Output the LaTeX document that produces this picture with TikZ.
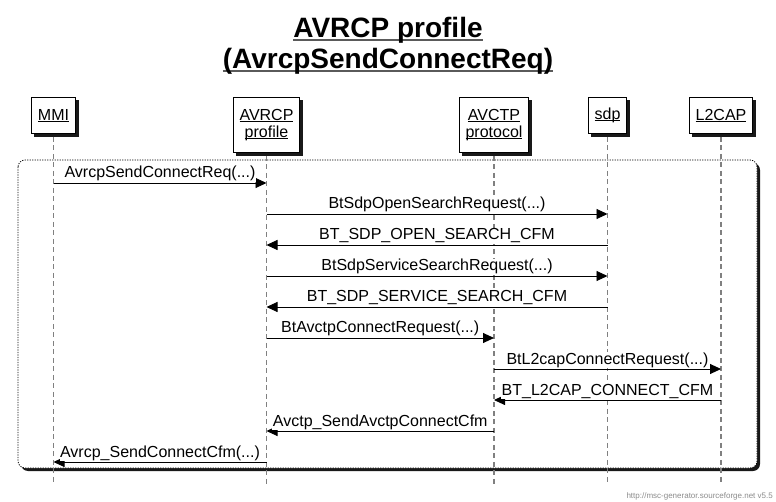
\documentclass[tikz,border=0pt]{standalone}
\usepackage{fontspec}
\setmainfont{Liberation Sans}
\usetikzlibrary{arrows.meta, positioning, shadows}
\definecolor{LifeGray}{RGB}{128,128,128}
\definecolor{ShadowColor}{RGB}{25,25,25}
\definecolor{TitleLine}{RGB}{90,90,90}
\definecolor{FooterGray}{RGB}{140,140,140}
\newcommand{\entul}[1]{\leavevmode\setbox0\hbox{#1}\rlap{\rule[-1.6pt]{\wd0}{0.9pt}}\box0}
\newcommand{\titleul}[1]{\leavevmode\setbox0\hbox{#1}\rlap{\color{TitleLine}\rule[-3.2pt]{\wd0}{2pt}}\box0}

\begin{document}
\begin{tikzpicture}[x=1pt, y=-1pt,
    titletext/.style={anchor=base, inner sep=0pt, font=\fontsize{28}{31}\selectfont\bfseries},
    entity/.style={draw, fill=white, line width=0.9pt, inner xsep=6pt, align=center,
      anchor=north, font=\fontsize{16}{17}\selectfont,
      copy shadow={shadow xshift=3pt, shadow yshift=-3pt, fill=ShadowColor, draw=ShadowColor}},
    lifeline/.style={LifeGray, line width=1.5pt, dash pattern=on 5pt off 3.5pt},
    msg/.style={line width=0.9pt, -{Triangle[length=11pt, width=10pt]}},
    msglabel/.style={midway, anchor=base, yshift=5pt, fill=white, inner sep=0.5pt,
      font=\fontsize{16}{17}\selectfont}]
  \useasboundingbox (0,0) rectangle (776,502);
  \fill[white] (0,0) rectangle (776,502);

  \node[titletext] (title1) at (388,38) {\titleul{AVRCP profile}};
  \node[titletext] (title2) at (388,69) {\titleul{(AvrcpSendConnectReq)}};

  \fill[ShadowColor, rounded corners=7pt] (21,163) rectangle (760,471);
  \draw[fill=white, line width=0.8pt, dash pattern=on 1.2pt off 1.3pt, rounded corners=7pt] (18,160) rectangle (757,468);

  \node[entity, minimum height=36pt] (mmi) at (53.5,97) {\entul{MMI}};
  \node[entity, minimum height=55pt] (avrcp) at (266.5,97) {\entul{AVRCP}\\\entul{profile}};
  \node[entity, minimum height=55pt] (avctp) at (494,97) {\entul{AVCTP}\\\entul{protocol}};
  \node[entity, minimum height=36pt] (sdp) at (607.5,97) {\entul{sdp}};
  \node[entity, minimum height=36pt] (l2cap) at (721,97) {\entul{L2CAP}};

  \foreach \ent in {mmi,avrcp,avctp,sdp,l2cap}
    \draw[lifeline] ([yshift=-3pt]\ent.south) -- (\ent |- 0,484);

  \foreach \src/\dst/\ypos/\lbl in {
      mmi/avrcp/183/{AvrcpSendConnectReq(...)},
      avrcp/sdp/214/{BtSdpOpenSearchRequest(...)},
      sdp/avrcp/245/{BT\_SDP\_OPEN\_SEARCH\_CFM},
      avrcp/sdp/276/{BtSdpServiceSearchRequest(...)},
      sdp/avrcp/307/{BT\_SDP\_SERVICE\_SEARCH\_CFM},
      avrcp/avctp/338/{BtAvctpConnectRequest(...)},
      avctp/l2cap/369/{BtL2capConnectRequest(...)},
      l2cap/avctp/400/{BT\_L2CAP\_CONNECT\_CFM},
      avctp/avrcp/431/{Avctp\_SendAvctpConnectCfm},
      avrcp/mmi/462/{Avrcp\_SendConnectCfm(...)}}
    \draw[msg] (\src |- 0,\ypos) -- (\dst |- 0,\ypos) node[msglabel] {\lbl};

  \node[anchor=base east, inner sep=0pt, text=FooterGray, font=\fontsize{8}{9}\selectfont] (footer) at (773,498) {http://msc-generator.sourceforge.net v5.5};
\end{tikzpicture}
\end{document}
